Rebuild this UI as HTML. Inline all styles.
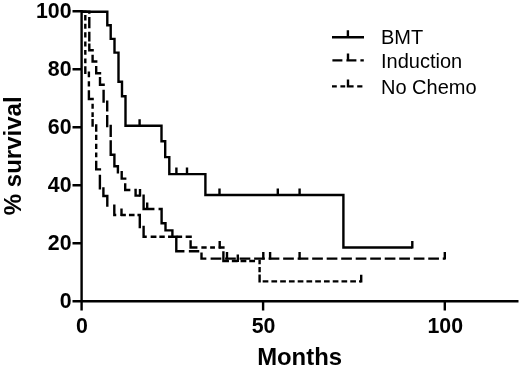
<!DOCTYPE html>
<html><head><meta charset="utf-8"><title>Survival</title>
<style>html,body{margin:0;padding:0;background:#fff;width:520px;height:368px;overflow:hidden;font-family:"Liberation Sans",sans-serif;}svg{display:block;will-change:transform;}</style>
</head><body>
<svg width="520" height="368" viewBox="0 0 520 368">
<rect width="520" height="368" fill="#fff"/>
<g fill="none" stroke="#000" stroke-width="2.4" stroke-linejoin="miter" stroke-linecap="butt">
<path d="M81.6 10V301.3H518.5 M72.5 11.2H81.6 M72.5 69.2H81.6 M72.5 127.2H81.6 M72.5 185.2H81.6 M72.5 243.2H81.6 M72.5 301.2H81.6 M81.6 301.3V310.4 M263.1 301.3V310.4 M444.8 301.3V310.4"/>
<path d="M81.4 11.8L89.3 11.8L89.3 13.75 M89.3 17.05L89.3 28.15 M89.3 31.65L89.3 41.55 M89.3 43.45L89.3 50.2L93.8 50.2 M92.6 54.65L92.6 61.5L97.4 61.5 M96.2 65.95L96.2 73.3L101.2 73.3 M100 76.95L100 84.8L104.8 84.8 M103.6 89.85L103.6 102.8 M107.2 100.4L107.2 111.45 M107.2 115.05L107.2 127.2 M110.7 124.8L110.7 137.05 M110.7 140.35L110.7 154.7L114.4 154.7L114.4 166.3L117.9 166.3L117.9 173.5 M121.7 171.1L121.7 178.6L126.4 178.6 M125.2 183.25L125.2 190L130.35 190 M134.35 190L135.6 190L135.6 195.6L140.45 195.6 M143.6 194.4L143.6 209L154.45 209 M158.55 209L161.6 209L161.6 223.3L165.5 223.3L165.5 230.4L172.4 230.4L172.4 236.8L176.3 236.8L176.3 251.3L184.45 251.3 M188.85 251.3L199.25 251.3 M201.5 252.55L201.5 258.6L206.35 258.6 M210.6 258.6L221.3 258.6 M225.11 258.6L235.81 258.6 M239.62 258.6L250.32 258.6 M254.13 258.6L264.83 258.6 M268.64 258.6L279.34 258.6 M283.15 258.6L293.85 258.6 M297.66 258.6L308.36 258.6 M312.17 258.6L322.87 258.6 M326.68 258.6L337.38 258.6 M341.19 258.6L351.89 258.6 M355.7 258.6L366.4 258.6 M370.21 258.6L380.91 258.6 M384.72 258.6L395.42 258.6 M399.23 258.6L409.93 258.6 M413.74 258.6L424.44 258.6 M428.25 258.6L438.95 258.6 M442.76 258.6L444.8 258.6"/>
<path d="M81.4 11.8L86.5 11.8 M85.3 15.05L85.3 20.45 M85.3 23.75L85.3 28.85 M85.3 32.25L85.3 37.45 M85.3 41.55L85.3 46.55 M85.3 49.95L85.3 54.75 M85.3 58.45L85.3 63.25 M85.3 66.25L85.3 74 M88.9 71.6L88.9 77.25 M88.9 81.25L88.9 86.55 M88.9 90.15L88.9 99L93.8 99 M92.6 103.85L92.6 108.65 M92.6 112.25L92.6 117.05 M92.6 119.05L92.6 126.7 M96.2 124.3L96.2 131.75 M96.2 134.75L96.2 140.05 M96.2 143.65L96.2 148.95 M96.2 152.45L96.2 157.35 M96.2 160.85L96.2 169.4L101.1 169.4 M99.9 174.75L99.9 189.6 M103.4 187.2L103.4 196L107.3 196L107.3 206.8 M114.3 204.4L114.3 215L116.25 215 M120.75 215L125.85 215 M128.95 215L134.55 215 M137.45 215L139.8 215L139.8 228.2 M143.6 225.8L143.6 236.7L146.75 236.7 M150.65 236.7L156.45 236.7 M159.35 236.7L164.75 236.7 M168.05 236.7L172.95 236.7 M176.65 236.7L182.15 236.7 M185.65 236.7L191.8 236.7 M190.6 240.25L190.6 247.5L197.45 247.5 M201.35 247.5L206.65 247.5 M210.15 247.5L214.95 247.5 M218.75 247.5L224.6 247.5 M223.4 251.25L223.4 261L228.95 261 M231.85 261L237.65 261 M240.55 261L246.35 261 M249.25 261L255.05 261 M259.6 259.8L259.6 264.25 M259.6 266.95L259.6 272.35 M259.6 274.55L259.6 282.6 M262.65 281.4L268.35 281.4 M271.41 281.4L277.11 281.4 M280.17 281.4L285.87 281.4 M288.93 281.4L294.63 281.4 M297.69 281.4L303.39 281.4 M306.45 281.4L312.15 281.4 M315.21 281.4L320.91 281.4 M323.97 281.4L329.67 281.4 M332.73 281.4L338.43 281.4 M341.49 281.4L347.19 281.4 M350.25 281.4L355.95 281.4 M359.01 281.4L361.2 281.4"/>
<path d="M81.4 11.8L107.3 11.8L107.3 25.3L110.7 25.3L110.7 38.9L114.5 38.9L114.5 52.6L118.5 52.6L118.5 81.7L122 81.7L122 96.2L125.5 96.2L125.5 125.8L161.5 125.8L161.5 141.3L165.2 141.3L165.2 157.1L169.3 157.1L169.3 174.1L205.4 174.1L205.4 195L343.4 195L343.4 247.5L412.3 247.5"/>
<path d="M139.6 126.8V119.2 M176.4 175.1V167.5 M187 175.1V167.5 M219.5 196V188.4 M277.8 196V188.4 M299.6 196V188.4 M412.3 248.5V240.9 M140 196.6V189 M147.2 210V202.4 M227 259.6V252 M263.3 259.6V252 M270.1 259.6V252 M299.6 259.6V252 M444.8 259.6V252 M121.5 216V208.4 M219.7 248.5V240.9 M237.8 262V254.4 M361.2 282.4V274.8"/>
<path d="M332 37.3H364M347.9 38.3V30.3"/>
<path d="M332.4 60.4H342.4M346.4 60.4H356.4M360.4 60.4H363.8M348 61.4V53.5"/>
<path d="M332 86.4H336.8M340.4 86.4H345.2M348.8 86.4H353.6M357.2 86.4H362.4M348 87.4V79.5"/>
</g>
<g font-family="Liberation Sans, sans-serif" font-weight="bold" font-size="22" fill="#000">
<text transform="translate(71.5 18.2) scale(0.97 1.04)" text-anchor="end">100</text>
<text transform="translate(71.5 76.2) scale(0.97 1.04)" text-anchor="end">80</text>
<text transform="translate(71.5 134.2) scale(0.97 1.04)" text-anchor="end">60</text>
<text transform="translate(71.5 192.2) scale(0.97 1.04)" text-anchor="end">40</text>
<text transform="translate(71.5 250.2) scale(0.97 1.04)" text-anchor="end">20</text>
<text transform="translate(71.5 308.2) scale(0.97 1.04)" text-anchor="end">0</text>
<text transform="translate(82 332.9) scale(0.97 1.04)" text-anchor="middle">0</text>
<text transform="translate(263.5 332.9) scale(0.97 1.04)" text-anchor="middle">50</text>
<text transform="translate(445.2 332.9) scale(0.97 1.04)" text-anchor="middle">100</text>
</g>
<text x="299.6" y="364.6" text-anchor="middle" font-family="Liberation Sans, sans-serif" font-weight="bold" font-size="23.9">Months</text>
<text transform="translate(21.3 155.8) rotate(-90)" text-anchor="middle" font-family="Liberation Sans, sans-serif" font-weight="bold" font-size="24">% survival</text>
<g font-family="Liberation Sans, sans-serif" font-size="20" fill="#000">
<text x="381" y="43.7">BMT</text>
<text x="381" y="68.3">Induction</text>
<text x="381" y="94">No Chemo</text>
</g>
</svg>
</body></html>
